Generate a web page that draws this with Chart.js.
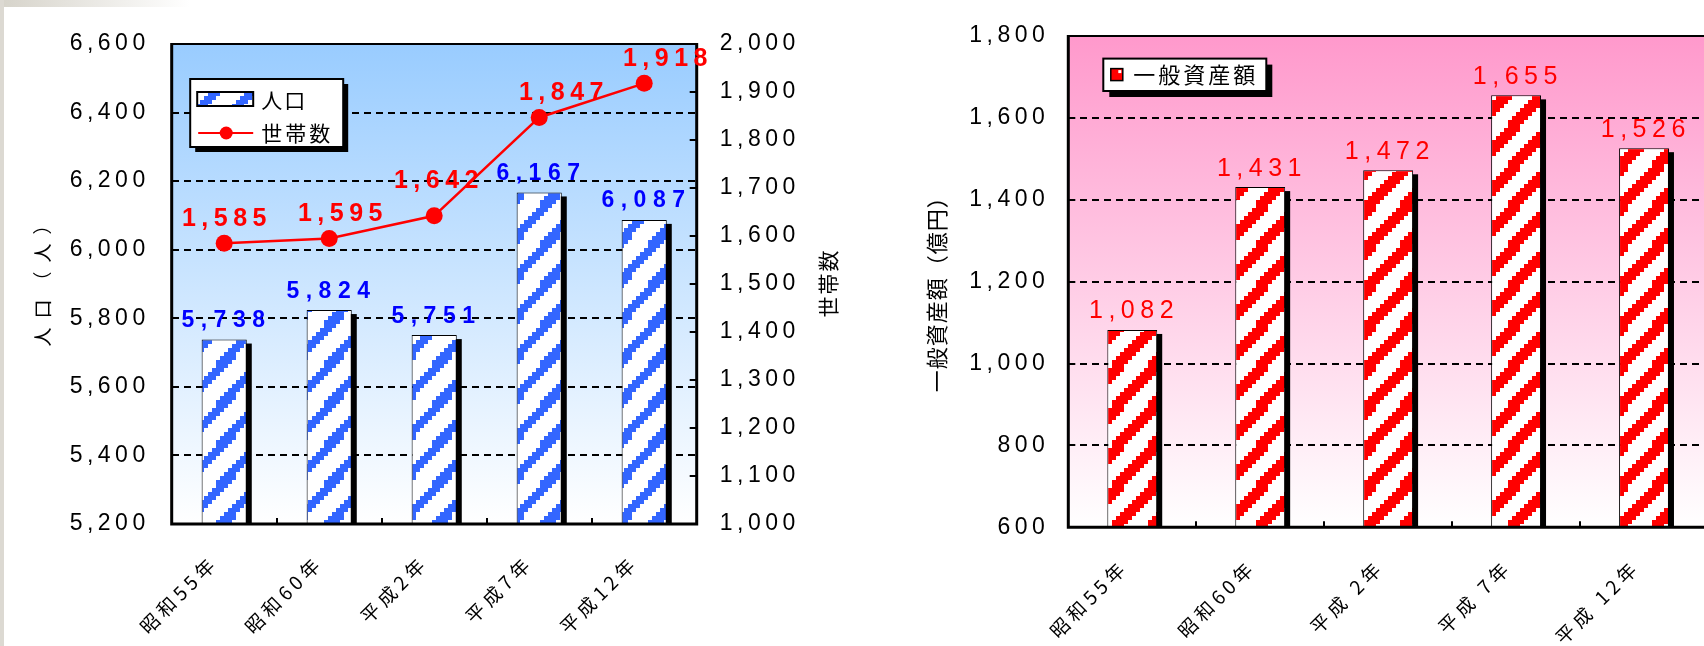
<!DOCTYPE html>
<html><head><meta charset="utf-8">
<script src="https://cdn.jsdelivr.net/npm/chart.js@4/dist/chart.umd.min.js"></script>
<style>
html,body{margin:0;padding:0;width:1704px;height:646px;overflow:hidden;background:#fff;}
#w1{position:absolute;left:0;top:0;width:860px;height:646px;}
#w2{position:absolute;left:860px;top:0;width:860px;height:646px;}
#topbar{position:absolute;left:0;top:0;width:190px;height:7px;background:linear-gradient(to right,#d6d3ca,#ffffff);z-index:5;}
#leftbar{position:absolute;left:0;top:0;width:4px;height:646px;background:#dcd9d2;z-index:5;}
</style></head>
<body>
<div id="w1"><canvas id="c1"></canvas></div>
<div id="w2"><canvas id="c2"></canvas></div>
<div id="topbar"></div><div id="leftbar"></div>
<script>
// ---- data ----
const categories = ['昭和55年', '昭和60年', '平成2年', '平成7年', '平成12年'];
const population = [5738, 5824, 5751, 6167, 6087];
const households = [1585, 1595, 1642, 1847, 1918];
const popTicks = [5200, 5400, 5600, 5800, 6000, 6200, 6400, 6600];
const householdTicks = [1000, 1100, 1200, 1300, 1400, 1500, 1600, 1700, 1800, 1900, 2000];

const assetCategories = ['昭和55年', '昭和60年', '平成 2年', '平成 7年', '平成 12年'];
const assets = [1082, 1431, 1472, 1655, 1526];
const assetTicks = [600, 800, 1000, 1200, 1400, 1600, 1800];

// label nudges (style only)
const householdLabelShift = [[0, 0], [11, 0], [2, -10], [22, 0], [21, 0]];

const NUM = '"Liberation Sans", Arial, sans-serif';
const JP = '"Noto Sans CJK JP", "Noto Sans", sans-serif';
const fmt = v => Number(v).toLocaleString('en-US');

Chart.defaults.color = '#000';

function stripePattern(ctx, color, thick) {
  const w = 36, h = 40, b = 4;
  const c = document.createElement('canvas');
  c.width = w; c.height = h;
  const g = c.getContext('2d');
  g.fillStyle = '#fff'; g.fillRect(0, 0, w, h);
  g.fillStyle = color;
  for (let y = 0; y < h; y += b) {
    for (let x = 0; x < w; x += b) {
      const v = ((y + x * h / w) % h + h) % h;
      if (v < thick) g.fillRect(x, y, b, b);
    }
  }
  return ctx.createPattern(c, 'repeat');
}

function txt(ctx, s, x, y, font, color, ls, align, baseline) {
  align = align || 'center'; baseline = baseline || 'alphabetic';
  ctx.save();
  ctx.font = font; ctx.fillStyle = color;
  ctx.letterSpacing = ls + 'px';
  ctx.textAlign = align; ctx.textBaseline = baseline;
  const dx = align === 'center' ? ls / 2 : (align === 'right' ? ls : 0);
  ctx.fillText(s, x + dx, y);
  ctx.restore();
}

const CONF = {};

const deco = {
  id: 'deco',
  beforeDraw(chart) {
    const o = CONF[chart.canvas.id];
    const {ctx, chartArea: a} = chart;
    ctx.letterSpacing = o.tickSpacing + 'px';
    ctx.save();
    const g = ctx.createLinearGradient(0, a.top, 0, a.bottom);
    g.addColorStop(0, o.gradTop); g.addColorStop(1, '#ffffff');
    ctx.fillStyle = g;
    ctx.fillRect(a.left, a.top, a.right - a.left, a.bottom - a.top);
    ctx.restore();
  },
  beforeDatasetsDraw(chart) {
    const {ctx, chartArea: a} = chart;
    ctx.save();
    ctx.beginPath(); ctx.rect(a.left, a.top, a.right - a.left, a.bottom - a.top); ctx.clip();
    ctx.fillStyle = '#000';
    chart.data.datasets.forEach((ds, i) => {
      const meta = chart.getDatasetMeta(i);
      if (meta.type !== 'bar') return;
      meta.data.forEach(el => {
        const p = el.getProps(['x', 'y', 'base', 'width'], true);
        ctx.fillRect(p.x - p.width / 2 + 5, p.y + 4, p.width, p.base - p.y);
      });
    });
    ctx.restore();
  },
  afterDatasetsDraw(chart) {
    const o = CONF[chart.canvas.id];
    const {ctx, chartArea: a} = chart;
    ctx.save();
    ctx.strokeStyle = '#000';
    ctx.lineWidth = 2;
    ctx.beginPath();
    const xs = chart.scales.x;
    for (let i = 1; i < chart.data.labels.length; i++) {
      const px = Math.round((xs.getPixelForValue(i - 1) + xs.getPixelForValue(i)) / 2);
      ctx.moveTo(px, a.bottom); ctx.lineTo(px, a.bottom - 6);
    }
    const ts = chart.scales[o.innerTicks.axis];
    const fromX = o.innerTicks.side === 'right' ? a.right : a.left;
    const dir = o.innerTicks.side === 'right' ? -1 : 1;
    ts.ticks.forEach(t => {
      const py = Math.round(ts.getPixelForValue(t.value));
      ctx.moveTo(fromX, py); ctx.lineTo(fromX + dir * 7, py);
    });
    ctx.stroke();
    ctx.lineWidth = 2;
    ctx.beginPath(); ctx.moveTo(a.left, a.top); ctx.lineTo(a.right, a.top); ctx.stroke();
    ctx.lineWidth = 3;
    ctx.beginPath();
    ctx.moveTo(a.left, a.top - 1); ctx.lineTo(a.left, a.bottom);
    ctx.lineTo(a.right, a.bottom); ctx.lineTo(a.right, a.top - 1);
    ctx.stroke();
    ctx.restore();

    o.labels.forEach(L => {
      const meta = chart.getDatasetMeta(L.dataset);
      const vals = chart.data.datasets[L.dataset].data;
      meta.data.forEach((el, i) => {
        const sh = L.shift ? L.shift[i] : [0, 0];
        txt(ctx, fmt(vals[i]), el.x + sh[0] + (L.dx || 0), el.y - L.gap + sh[1], L.font, L.color, L.ls);
      });
    });

    o.legend(chart);

    o.titles.forEach(T => {
      const cx = T.from === 'left' ? a.left + T.dx : a.right + T.dx;
      const cy = (a.top + a.bottom) / 2 + T.dy;
      ctx.save();
      ctx.translate(cx, cy); ctx.rotate(-Math.PI / 2);
      txt(ctx, T.text, 0, 0, T.font, '#000', T.ls, 'center', 'middle');
      ctx.restore();
    });
  }
};

// ---------------- left chart ----------------
const ctx1 = document.getElementById('c1').getContext('2d');
const bluePat = stripePattern(ctx1, '#3366ff', 14);

function legendLeft(chart) {
  const {ctx, chartArea: a} = chart;
  const x = a.left + 18.5, y = a.top + 35, w = 153, h = 68;
  ctx.save();
  ctx.fillStyle = '#000'; ctx.fillRect(x + 5, y + 5, w, h);
  ctx.fillStyle = '#fff'; ctx.fillRect(x, y, w, h);
  ctx.strokeStyle = '#000'; ctx.lineWidth = 2; ctx.strokeRect(x, y, w, h);
  ctx.fillStyle = bluePat; ctx.fillRect(x + 7, y + 13, 56, 14);
  ctx.strokeRect(x + 7, y + 13, 56, 14);
  ctx.strokeStyle = '#ff0000'; ctx.lineWidth = 2;
  ctx.beginPath(); ctx.moveTo(x + 8, y + 54); ctx.lineTo(x + 63, y + 54); ctx.stroke();
  ctx.fillStyle = '#ff0000';
  ctx.beginPath(); ctx.arc(x + 36, y + 54, 6.5, 0, Math.PI * 2); ctx.fill();
  txt(ctx, chart.data.datasets[1].label, x + 71, y + 21, '21px ' + JP, '#000', 2, 'left', 'middle');
  txt(ctx, chart.data.datasets[0].label, x + 71, y + 54, '21px ' + JP, '#000', 3, 'left', 'middle');
  ctx.restore();
}

CONF.c1 = {
  gradTop: '#99ccff', tickSpacing: 4.5,
  innerTicks: {axis: 'y2', side: 'right'},
  labels: [
    {dataset: 1, font: 'bold 23px ' + NUM, color: '#0000ff', ls: 6.5, gap: 12.5, dx: -1},
    {dataset: 0, font: 'bold 25px ' + NUM, color: '#ff0000', ls: 5.5, gap: 17.5, shift: householdLabelShift}
  ],
  legend: legendLeft,
  titles: [
    {text: '人口（人）', from: 'left', dx: -129.2, dy: -3, font: '19px ' + JP, ls: 9},
    {text: '世帯数', from: 'right', dx: 131.3, dy: 0, font: '21px ' + JP, ls: 2}
  ]
};

new Chart(ctx1, {
  type: 'bar',
  data: {
    labels: categories,
    datasets: [
      {type: 'line', label: '世帯数', data: households, yAxisID: 'y2', borderColor: '#ff0000',
       backgroundColor: '#ff0000', borderWidth: 2.5, pointRadius: 8.5, pointBackgroundColor: '#ff0000',
       pointBorderColor: '#ff0000', pointBorderWidth: 0, tension: 0, order: 0},
      {type: 'bar', label: '人口', data: population, yAxisID: 'y', backgroundColor: bluePat,
       borderColor: '#000', borderWidth: 1, barPercentage: 0.43, categoryPercentage: 1, order: 1}
    ]
  },
  options: {
    responsive: true, maintainAspectRatio: false, animation: false, devicePixelRatio: 1,
    layout: {padding: {top: 44, left: 0, right: 0, bottom: 0}},
    plugins: {legend: {display: false}, tooltip: {enabled: false}},
    scales: {
      x: {
        grid: {display: false, drawTicks: false}, border: {display: false},
        ticks: {minRotation: 45, maxRotation: 45, autoSkip: false, padding: 27, labelOffset: -10,
                color: '#000', font: {family: JP, size: 19}},
        afterFit: s => { s.height = 122; }
      },
      y: {
        position: 'left', min: popTicks[0], max: popTicks[popTicks.length - 1],
        afterBuildTicks: s => { s.ticks = popTicks.map(v => ({value: v})); },
        ticks: {callback: v => fmt(v), padding: 22, color: '#000', font: {family: NUM, size: 23}},
        grid: {color: '#000', lineWidth: 2, drawTicks: false},
        border: {display: false, dash: [7, 5]},
        afterFit: s => { s.width = 171.7; }
      },
      y2: {
        position: 'right', min: householdTicks[0], max: householdTicks[householdTicks.length - 1],
        afterBuildTicks: s => { s.ticks = householdTicks.map(v => ({value: v})); },
        ticks: {callback: v => fmt(v), padding: 23, color: '#000', font: {family: NUM, size: 23}},
        grid: {display: false, drawTicks: false}, border: {display: false},
        afterFit: s => { s.width = 163.3; }
      }
    }
  },
  plugins: [deco]
});

// ---------------- right chart ----------------
const ctx2 = document.getElementById('c2').getContext('2d');
const redPat = stripePattern(ctx2, '#ff0000', 17);

function legendRight(chart) {
  const {ctx, chartArea: a} = chart;
  const x = a.left + 35, y = a.top + 22.6, w = 163, h = 32.4;
  ctx.save();
  ctx.fillStyle = '#000'; ctx.fillRect(x + 6, y + 6, w, h);
  ctx.fillStyle = '#fff'; ctx.fillRect(x, y, w, h);
  ctx.strokeStyle = '#000'; ctx.lineWidth = 2; ctx.strokeRect(x, y, w, h);
  ctx.fillStyle = '#ff0000'; ctx.fillRect(x + 7.5, y + 10, 12, 12);
  ctx.lineWidth = 1.5; ctx.strokeRect(x + 7.5, y + 10, 12, 12);
  ctx.fillStyle = '#fff'; ctx.fillRect(x + 15, y + 11.5, 3, 3);
  txt(ctx, chart.data.datasets[0].label, x + 30, y + 16.5, '22px ' + JP, '#000', 3, 'left', 'middle');
  ctx.restore();
}

CONF.c2 = {
  gradTop: '#ff99cc', tickSpacing: 4.5,
  innerTicks: {axis: 'y', side: 'left'},
  labels: [
    {dataset: 0, font: '25px ' + NUM, color: '#ff0000', ls: 5.5, gap: 11.5, dx: -1}
  ],
  legend: legendRight,
  titles: [
    {text: '一般資産額（億円）', from: 'left', dx: -131.6, dy: 7.5, font: '22px ' + JP, ls: 1}
  ]
};

new Chart(ctx2, {
  type: 'bar',
  data: {
    labels: assetCategories,
    datasets: [
      {label: '一般資産額', data: assets, backgroundColor: redPat, borderColor: '#000', borderWidth: 1,
       barPercentage: 0.39, categoryPercentage: 1}
    ]
  },
  options: {
    responsive: true, maintainAspectRatio: false, animation: false, devicePixelRatio: 1,
    layout: {padding: {top: 36, left: 0, right: 12, bottom: 0}},
    plugins: {legend: {display: false}, tooltip: {enabled: false}},
    scales: {
      x: {
        grid: {display: false, drawTicks: false}, border: {display: false},
        ticks: {minRotation: 45, maxRotation: 45, autoSkip: false, padding: 28, labelOffset: -8,
                color: '#000', font: {family: JP, size: 19}},
        afterFit: s => { s.height = 118.7; }
      },
      y: {
        position: 'left', min: assetTicks[0], max: assetTicks[assetTicks.length - 1],
        afterBuildTicks: s => { s.ticks = assetTicks.map(v => ({value: v})); },
        ticks: {callback: v => fmt(v), padding: 19, color: '#000', font: {family: NUM, size: 23}},
        grid: {color: '#000', lineWidth: 2, drawTicks: false},
        border: {display: false, dash: [7, 5]},
        afterFit: s => { s.width = 208.3; }
      }
    }
  },
  plugins: [deco]
});
</script>
</body></html>
